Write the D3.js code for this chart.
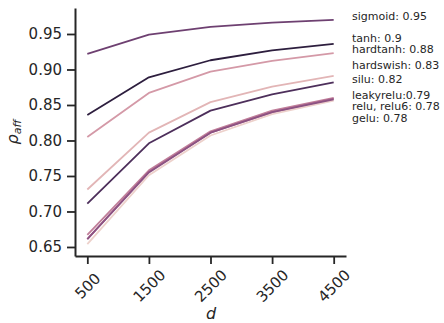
<!DOCTYPE html>
<meta charset="utf-8">
<title>rho_aff vs d</title>
<style>
    body { margin: 0; background: #fff; }
    text { font-family: "DejaVu Sans", sans-serif; fill: #262626; }
    .line { fill: none; stroke-width: 1.8px; stroke-linejoin: round; stroke-linecap: butt; }
</style>
<svg width="444" height="323"></svg>
<script src="https://d3js.org/d3.v7.min.js"></script>
<script>

    // x values (embedding dimension d)
    var dims = [500, 1500, 2500, 3500, 4500];

    // one series per activation
    var gelu      = [0.654, 0.751, 0.807, 0.837, 0.856];
    var hardswish = [0.731, 0.811, 0.854, 0.876, 0.891];
    var hardtanh  = [0.805, 0.867, 0.897, 0.912, 0.923];
    var leakyrelu = [0.667, 0.758, 0.813, 0.842, 0.860];
    var relu      = [0.661, 0.756, 0.811, 0.840, 0.859];
    var relu6     = [0.661, 0.755, 0.811, 0.840, 0.858];
    var sigmoid   = [0.922, 0.949, 0.960, 0.966, 0.970];
    var silu      = [0.711, 0.796, 0.842, 0.865, 0.882];
    var tanh      = [0.836, 0.889, 0.913, 0.927, 0.936];

    var names = ["gelu", "hardswish", "hardtanh", "leakyrelu", "relu", "relu6", "sigmoid", "silu", "tanh"];
    var values = [gelu, hardswish, hardtanh, leakyrelu, relu, relu6, sigmoid, silu, tanh];

    var yTicks = [0.65, 0.70, 0.75, 0.80, 0.85, 0.90, 0.95];

    // text notes to the right of the plot, with their y (data units)
    var notes = ["sigmoid: 0.95", "tanh: 0.9", "hardtanh: 0.88", "hardswish: 0.83", "silu: 0.82",
                 "leakyrelu:0.79", "relu, relu6: 0.78", "gelu: 0.78"];
    var noteY = [0.975, 0.9435, 0.9275, 0.905, 0.886, 0.8635, 0.8476, 0.8313];

    // seaborn-style cubehelix palette (light -> dark)
    function cubehelix(n) {
        var start = 0, rot = 0.4, gamma = 1, hue = 0.8, light = 0.85, dark = 0.15;
        function chan(p0, p1, x) {
            var xg = Math.pow(x, gamma);
            var a = hue * xg * (1 - xg) / 2;
            var phi = 2 * Math.PI * (start / 3 + rot * x);
            return Math.max(0, Math.min(1, xg + a * (p0 * Math.cos(phi) + p1 * Math.sin(phi))));
        }
        var out = [];
        for (var i = 0; i < n; i++) {
            var x = light + (dark - light) * i / (n - 1);
            out.push(d3.rgb(chan(-0.14861, 1.78277, x) * 255,
                            chan(-0.29227, -0.90649, x) * 255,
                            chan(1.97294, 0.0, x) * 255).formatHex());
        }
        return out;
    }
    var color = d3.scaleOrdinal().domain(names).range(cubehelix(names.length));

    var svg = d3.select("svg");

    var x = d3.scaleLinear().domain([300, 4700]).range([75, 346]);
    var y = d3.scaleLinear().domain([0.6373, 0.9866]).range([256, 8]);

    var series = names.map(function (n, i) {
        return { name: n, points: dims.map(function (d, j) { return [d, values[i][j]]; }) };
    });

    var line = d3.line()
        .x(function (d) { return x(d[0]); })
        .y(function (d) { return y(d[1]); });

    svg.append("g")
        .selectAll("path")
        .data(series)
        .enter().append("path")
        .attr("class", "line")
        .attr("stroke", function (d) { return color(d.name); })
        .attr("d", function (d) { return line(d.points); });

    // x axis
    var xAxis = svg.append("g")
        .attr("transform", "translate(0,256)")
        .call(d3.axisBottom(x).tickValues(dims).tickSize(8).tickSizeOuter(0).tickFormat(d3.format("d")));
    xAxis.select(".domain").attr("stroke", "#262626").attr("stroke-width", 2);
    xAxis.selectAll(".tick line").attr("stroke", "#262626").attr("stroke-width", 1.8);
    xAxis.selectAll(".tick text")
        .attr("font-family", "DejaVu Sans")
        .attr("font-size", 15)
        .attr("fill", "#262626")
        .attr("text-anchor", "middle")
        .attr("dominant-baseline", "central")
        .attr("y", 0)
        .attr("dy", null)
        .attr("transform", "translate(0,30) rotate(-45)");

    // y axis
    var yAxis = svg.append("g")
        .attr("transform", "translate(75,0)")
        .call(d3.axisLeft(y).tickValues(yTicks).tickSize(8).tickSizeOuter(0).tickFormat(d3.format(".2f")));
    yAxis.select(".domain").attr("stroke", "#262626").attr("stroke-width", 2);
    yAxis.selectAll(".tick line").attr("stroke", "#262626").attr("stroke-width", 1.8);
    yAxis.selectAll(".tick text")
        .attr("font-family", "DejaVu Sans")
        .attr("font-size", 15)
        .attr("fill", "#262626")
        .attr("x", -13);

    // axis labels
    svg.append("text")
        .attr("x", 211)
        .attr("y", 319)
        .attr("text-anchor", "middle")
        .attr("font-size", 16)
        .attr("font-style", "italic")
        .text("d");

    var yl = svg.append("text")
        .attr("transform", "translate(18,132) rotate(-90)")
        .attr("text-anchor", "middle")
        .attr("font-size", 16)
        .attr("font-style", "italic");
    yl.append("tspan").text("ρ");
    yl.append("tspan").attr("font-size", 11).attr("dy", 3).text("aff");

    // notes
    svg.append("g")
        .selectAll("text")
        .data(notes)
        .enter().append("text")
        .attr("x", 352)
        .attr("y", function (d, i) { return y(noteY[i]); })
        .attr("dominant-baseline", "central")
        .attr("font-size", 11)
        .text(function (d) { return d; });

</script>
